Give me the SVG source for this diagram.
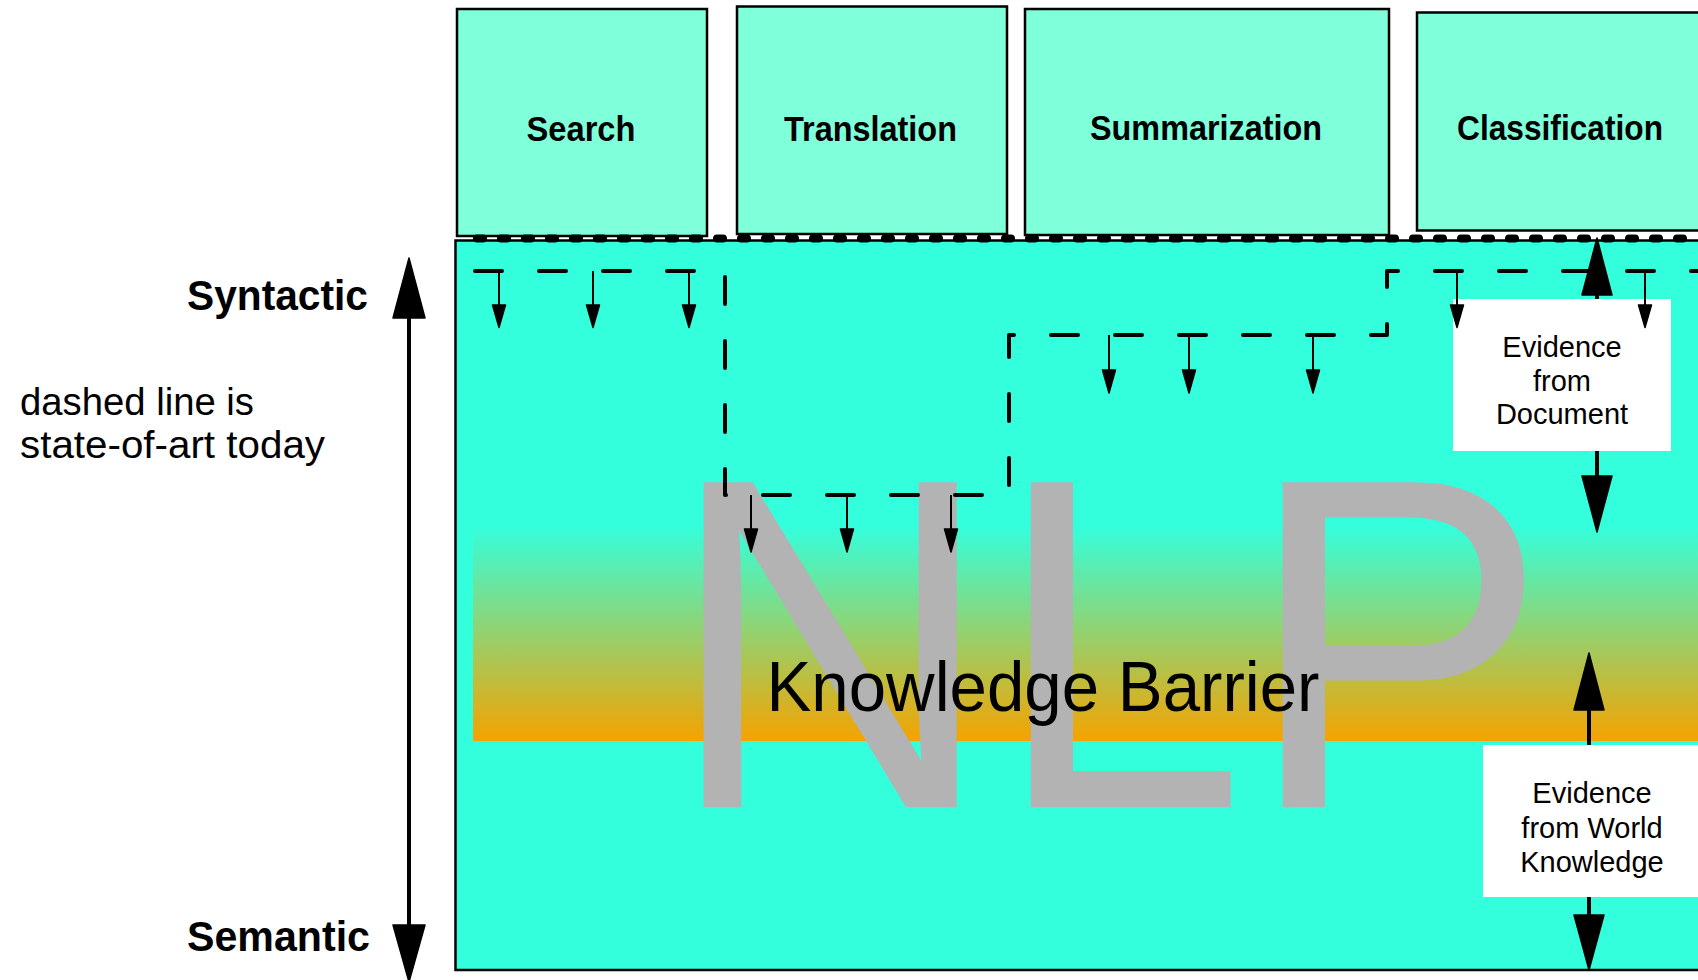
<svg xmlns="http://www.w3.org/2000/svg" width="1698" height="980" viewBox="0 0 1698 980">
<defs>
<linearGradient id="barrier" x1="0" y1="0" x2="0" y2="1">
<stop offset="0" stop-color="#33FFDD"/>
<stop offset="1" stop-color="#F5A300"/>
</linearGradient>
<style>
.task{fill:#7FFFDA;stroke:#000;stroke-width:2.5}
.tlabel{font-family:"Liberation Sans",Arial,Helvetica,sans-serif;font-weight:bold;font-size:35px;fill:#000;text-anchor:middle}
.axis{font-family:"Liberation Sans",Arial,Helvetica,sans-serif;font-weight:bold;font-size:42px;fill:#000}
.note{font-family:"Liberation Sans",Arial,Helvetica,sans-serif;font-size:38px;fill:#000}
.ev{font-family:"Liberation Sans",Arial,Helvetica,sans-serif;font-size:29px;fill:#000;text-anchor:middle}
.evbox{fill:#FFFFFF;stroke:none}
.head{fill:#000;stroke:#000;stroke-width:1.5;stroke-linejoin:round}
.shaft{stroke:#000;stroke-width:4;fill:none}
.thin{stroke:#000;stroke-width:2;fill:none}
.state{stroke:#000;stroke-width:4;fill:none;stroke-dasharray:27 37;stroke-linecap:round;stroke-linejoin:round}
.dots{stroke:#000;stroke-width:8;fill:none;stroke-dasharray:6 18;stroke-linecap:round}
</style>
</defs>
<rect x="0" y="0" width="1698" height="980" fill="#FFFFFF"/>

<g id="node-nlp">
<rect x="455.5" y="240.5" width="1300" height="729.5" fill="#33FFDD" stroke="#000" stroke-width="2.5"/>
</g>
<g id="node-knowledge-barrier">
<rect x="473" y="525" width="1240" height="216" fill="url(#barrier)"/>
</g>
<g id="nlp-label">
<text x="666.5" y="0" transform="translate(0,807) scale(1,1.042)" font-family="'Liberation Sans',Arial,Helvetica,sans-serif" font-size="453" fill="#B3B3B3">NLP</text>
</g>
<g id="knowledge-barrier-label">
<text x="766.5" y="710.5" font-family="'Liberation Sans',Arial,Helvetica,sans-serif" font-size="70" fill="#000" textLength="553" lengthAdjust="spacingAndGlyphs">Knowledge Barrier</text>
</g>

<g id="node-search">
<rect class="task" x="457" y="9" width="250" height="227"/>
<text class="tlabel" x="581" y="141" textLength="109" lengthAdjust="spacingAndGlyphs">Search</text>
</g>
<g id="node-translation">
<rect class="task" x="737" y="6.5" width="270" height="227.5"/>
<text class="tlabel" x="870.5" y="140.5" textLength="173" lengthAdjust="spacingAndGlyphs">Translation</text>
</g>
<g id="node-summarization">
<rect class="task" x="1025" y="9" width="364" height="226"/>
<text class="tlabel" x="1206" y="140" textLength="232" lengthAdjust="spacingAndGlyphs">Summarization</text>
</g>
<g id="node-classification">
<rect class="task" x="1417" y="12.5" width="290" height="218"/>
<text class="tlabel" x="1560" y="140" textLength="206" lengthAdjust="spacingAndGlyphs">Classification</text>
</g>

<g id="node-evidence-document">
<rect class="evbox" x="1453" y="299" width="218" height="152"/>
<text class="ev" x="1562" y="357">Evidence</text>
<text class="ev" x="1562" y="390.5">from</text>
<text class="ev" x="1562" y="424">Document</text>
</g>
<g id="node-evidence-world">
<rect class="evbox" x="1483" y="745" width="220" height="152"/>
<text class="ev" x="1592" y="803">Evidence</text>
<text class="ev" x="1592" y="838">from World</text>
<text class="ev" x="1592" y="872">Knowledge</text>
</g>

<g id="node-axis-labels">
<text class="axis" x="187" y="310" textLength="181" lengthAdjust="spacingAndGlyphs">Syntactic</text>
<text class="axis" x="187" y="951" textLength="183" lengthAdjust="spacingAndGlyphs">Semantic</text>
<text class="note" x="20" y="415" textLength="234" lengthAdjust="spacingAndGlyphs">dashed line is</text>
<text class="note" x="20" y="458" textLength="305" lengthAdjust="spacingAndGlyphs">state-of-art today</text>
</g>

<g id="connectors">
<path class="dots" d="M477,238.5 H1700"/>
<path class="state" d="M475,271 H725 V495 H1009 V335 H1387 V271 H1700"/>
<g id="small-arrows">
<line class="thin" x1="499" y1="271" x2="499" y2="307"/><polygon class="head" points="492.5,305 505.5,305 499,327.5"/>
<line class="thin" x1="593" y1="271" x2="593" y2="307"/><polygon class="head" points="586.5,305 599.5,305 593,327.5"/>
<line class="thin" x1="689" y1="271" x2="689" y2="307"/><polygon class="head" points="682.5,305 695.5,305 689,327.5"/>
<line class="thin" x1="1109" y1="335" x2="1109" y2="372"/><polygon class="head" points="1102.5,370 1115.5,370 1109,393"/>
<line class="thin" x1="1189" y1="335" x2="1189" y2="372"/><polygon class="head" points="1182.5,370 1195.5,370 1189,393"/>
<line class="thin" x1="1313" y1="335" x2="1313" y2="372"/><polygon class="head" points="1306.5,370 1319.5,370 1313,393"/>
<line class="thin" x1="751" y1="495" x2="751" y2="531"/><polygon class="head" points="744.5,529 757.5,529 751,552"/>
<line class="thin" x1="847" y1="495" x2="847" y2="531"/><polygon class="head" points="840.5,529 853.5,529 847,552"/>
<line class="thin" x1="951" y1="495" x2="951" y2="531"/><polygon class="head" points="944.5,529 957.5,529 951,552"/>
<line class="thin" x1="1457" y1="271" x2="1457" y2="307"/><polygon class="head" points="1450.5,305 1463.5,305 1457,327.5"/>
<line class="thin" x1="1645" y1="271" x2="1645" y2="307"/><polygon class="head" points="1638.5,305 1651.5,305 1645,327.5"/>
</g>
<g id="axis-arrow">
<line class="shaft" x1="409" y1="314" x2="409" y2="929"/>
<polygon class="head" points="409,258 425,318 393,318"/>
<polygon class="head" points="393,925 425,925 409,982"/>
</g>
<g id="doc-arrows">
<line class="shaft" x1="1597" y1="292" x2="1597" y2="299"/>
<polygon class="head" points="1597,238 1612,295 1582,295"/>
<line class="shaft" x1="1597" y1="451" x2="1597" y2="479"/>
<polygon class="head" points="1582,476 1612,476 1597,532"/>
</g>
<g id="world-arrows">
<line class="shaft" x1="1589" y1="707" x2="1589" y2="745"/>
<polygon class="head" points="1589,653 1604,710 1574,710"/>
<line class="shaft" x1="1589" y1="897" x2="1589" y2="918"/>
<polygon class="head" points="1574,915 1604,915 1589,970"/>
</g>
</g>
</svg>
